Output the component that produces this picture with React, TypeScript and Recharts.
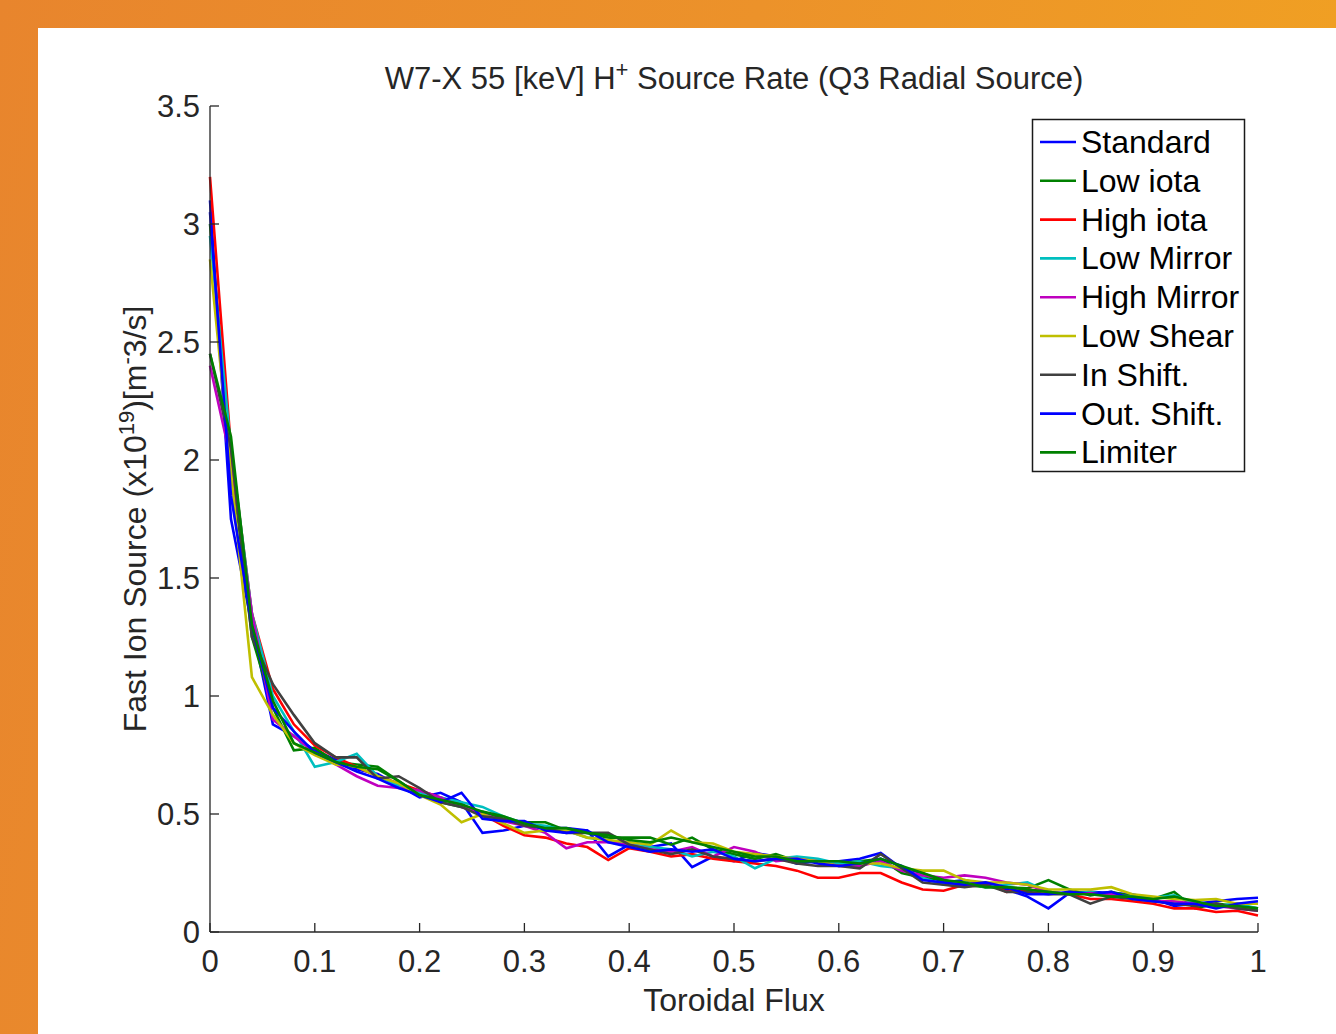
import { LineChart, Line, XAxis, YAxis } from 'recharts';

// Toroidal flux grid (s)
const flux = [
  0, 0.02, 0.04, 0.06, 0.08, 0.1, 0.12, 0.14, 0.16, 0.18,
  0.2, 0.22, 0.24, 0.26, 0.28, 0.3, 0.32, 0.34, 0.36, 0.38,
  0.4, 0.42, 0.44, 0.46, 0.48, 0.5, 0.52, 0.54, 0.56, 0.58,
  0.6, 0.62, 0.64, 0.66, 0.68, 0.7, 0.72, 0.74, 0.76, 0.78,
  0.8, 0.82, 0.84, 0.86, 0.88, 0.9, 0.92, 0.94, 0.96, 0.98, 1,
];

// Fast ion source, x1e19 m^-3/s, one list per configuration
const standard = [3.1, 1.75, 1.3, 0.88, 0.83, 0.77, 0.73, 0.69, 0.67, 0.62, 0.57, 0.59, 0.55, 0.42, 0.43, 0.45, 0.44, 0.44, 0.43, 0.32, 0.37, 0.36, 0.375, 0.275, 0.32, 0.3, 0.335, 0.32, 0.29, 0.3, 0.3, 0.31, 0.335, 0.27, 0.25, 0.21, 0.22, 0.2, 0.18, 0.15, 0.1, 0.165, 0.17, 0.165, 0.16, 0.14, 0.11, 0.12, 0.13, 0.14, 0.145];
const lowIota = [3.0, 2.0, 1.25, 0.95, 0.77, 0.78, 0.72, 0.71, 0.7, 0.64, 0.58, 0.55, 0.53, 0.51, 0.48, 0.465, 0.465, 0.43, 0.42, 0.4, 0.4, 0.4, 0.37, 0.4, 0.35, 0.33, 0.31, 0.33, 0.3, 0.3, 0.29, 0.3, 0.31, 0.25, 0.23, 0.22, 0.2, 0.19, 0.19, 0.185, 0.22, 0.18, 0.155, 0.17, 0.15, 0.14, 0.17, 0.1, 0.12, 0.11, 0.1];
const highIota = [3.2, 2.05, 1.35, 1.03, 0.88, 0.79, 0.74, 0.7, 0.66, 0.63, 0.6, 0.57, 0.54, 0.5, 0.45, 0.41, 0.4, 0.375, 0.36, 0.305, 0.355, 0.34, 0.32, 0.33, 0.31, 0.3, 0.29, 0.28, 0.26, 0.23, 0.23, 0.25, 0.25, 0.21, 0.18, 0.175, 0.2, 0.21, 0.17, 0.18, 0.17, 0.16, 0.14, 0.14, 0.13, 0.12, 0.1, 0.1, 0.085, 0.09, 0.07];
const lowMirror = [2.95, 2.05, 1.35, 1.0, 0.85, 0.7, 0.72, 0.755, 0.66, 0.62, 0.59, 0.57, 0.55, 0.53, 0.49, 0.46, 0.45, 0.43, 0.4, 0.39, 0.37, 0.36, 0.35, 0.32, 0.34, 0.32, 0.27, 0.31, 0.32, 0.31, 0.29, 0.3, 0.28, 0.27, 0.23, 0.2, 0.21, 0.19, 0.2, 0.21, 0.17, 0.16, 0.17, 0.155, 0.15, 0.145, 0.155, 0.12, 0.11, 0.12, 0.1];
const highMirror = [2.4, 2.0, 1.35, 0.9, 0.83, 0.76, 0.71, 0.66, 0.62, 0.61, 0.6, 0.57, 0.53, 0.5, 0.47, 0.45, 0.42, 0.355, 0.38, 0.38, 0.37, 0.35, 0.34, 0.36, 0.32, 0.36, 0.34, 0.3, 0.31, 0.3, 0.28, 0.28, 0.3, 0.26, 0.24, 0.23, 0.24, 0.23, 0.21, 0.2, 0.17, 0.16, 0.165, 0.16, 0.145, 0.13, 0.13, 0.12, 0.11, 0.1, 0.09];
const lowShear = [2.85, 1.95, 1.08, 0.92, 0.8, 0.75, 0.71, 0.7, 0.66, 0.63, 0.58, 0.54, 0.465, 0.5, 0.46, 0.42, 0.43, 0.43, 0.4, 0.39, 0.38, 0.37, 0.43, 0.38, 0.375, 0.34, 0.33, 0.32, 0.31, 0.3, 0.28, 0.29, 0.29, 0.27, 0.26, 0.26, 0.22, 0.21, 0.21, 0.2, 0.18, 0.18, 0.18, 0.19, 0.16, 0.15, 0.14, 0.135, 0.14, 0.12, 0.12];
const inShift = [2.45, 2.05, 1.25, 1.05, 0.92, 0.8, 0.74, 0.74, 0.65, 0.66, 0.61, 0.55, 0.53, 0.49, 0.48, 0.45, 0.44, 0.42, 0.42, 0.42, 0.37, 0.35, 0.33, 0.35, 0.32, 0.31, 0.3, 0.31, 0.29, 0.28, 0.28, 0.27, 0.33, 0.27, 0.21, 0.2, 0.19, 0.2, 0.17, 0.17, 0.16, 0.16, 0.12, 0.15, 0.14, 0.13, 0.12, 0.11, 0.12, 0.1, 0.09];
const outShift = [3.05, 1.85, 1.3, 0.95, 0.85, 0.76, 0.72, 0.68, 0.65, 0.61, 0.58, 0.55, 0.59, 0.48, 0.47, 0.47, 0.43, 0.42, 0.43, 0.38, 0.36, 0.34, 0.35, 0.34, 0.35, 0.31, 0.3, 0.31, 0.31, 0.29, 0.28, 0.29, 0.31, 0.28, 0.22, 0.21, 0.2, 0.21, 0.19, 0.16, 0.16, 0.17, 0.16, 0.17, 0.14, 0.13, 0.12, 0.12, 0.1, 0.12, 0.13];
const limiter = [2.45, 2.1, 1.3, 0.98, 0.8, 0.76, 0.72, 0.7, 0.69, 0.64, 0.58, 0.56, 0.54, 0.51, 0.49, 0.46, 0.44, 0.44, 0.42, 0.41, 0.39, 0.38, 0.4, 0.38, 0.36, 0.34, 0.32, 0.32, 0.3, 0.3, 0.3, 0.29, 0.31, 0.28, 0.25, 0.22, 0.21, 0.19, 0.19, 0.18, 0.17, 0.16, 0.16, 0.15, 0.15, 0.14, 0.15, 0.13, 0.11, 0.11, 0.1];

const xTicks = [0, 0.1, 0.2, 0.3, 0.4, 0.5, 0.6, 0.7, 0.8, 0.9, 1];
const yTicks = [0, 0.5, 1, 1.5, 2, 2.5, 3, 3.5];

const series = [
  { key: 'standard', name: 'Standard', color: '#0000ff', values: standard },
  { key: 'lowIota', name: 'Low iota', color: '#008000', values: lowIota },
  { key: 'highIota', name: 'High iota', color: '#ff0000', values: highIota },
  { key: 'lowMirror', name: 'Low Mirror', color: '#00bfbf', values: lowMirror },
  { key: 'highMirror', name: 'High Mirror', color: '#bf00bf', values: highMirror },
  { key: 'lowShear', name: 'Low Shear', color: '#bfbf00', values: lowShear },
  { key: 'inShift', name: 'In Shift.', color: '#404040', values: inShift },
  { key: 'outShift', name: 'Out. Shift.', color: '#0000ff', values: outShift },
  { key: 'limiter', name: 'Limiter', color: '#008000', values: limiter },
];

const data = flux.map((x, i) => {
  const row: Record<string, number> = { x };
  series.forEach((s) => {
    row[s.key] = s.values[i];
  });
  return row;
});

const FONT = '"Liberation Sans", Arial, Helvetica, sans-serif';
const AXIS = '#262626';
const fmt = (v: number) => String(Math.round(v * 10) / 10);

export default function App() {
  return (
    <div
      style={{
        position: 'absolute',
        left: 0,
        top: 0,
        width: 1336,
        height: 1034,
        overflow: 'hidden',
        background: 'linear-gradient(100deg, #e8852d 0%, #ec922a 50%, #f1a321 100%)',
        fontFamily: FONT,
      }}
    >
      <div style={{ position: 'absolute', left: 38, top: 28, width: 1298, height: 1006, background: '#fff' }}>
        <LineChart width={1298} height={1006} data={data} margin={{ top: 78, right: 78, left: 112, bottom: 42 }}>
          <XAxis
            xAxisId="b"
            dataKey="x"
            type="number"
            domain={[0, 1]}
            ticks={xTicks}
            tickFormatter={fmt}
            height={60}
            tickSize={-9}
            tickMargin={27}
            axisLine={{ stroke: AXIS, strokeWidth: 1.3 }}
            tickLine={{ stroke: AXIS, strokeWidth: 1.3 }}
            tick={{ fill: AXIS, fontSize: 31, fontFamily: FONT }}
            interval={0}
          />
          <XAxis
            xAxisId="t"
            orientation="top"
            dataKey="x"
            type="number"
            domain={[0, 1]}
            ticks={xTicks}
            height={0}
            tickSize={-9}
            tick={false}
            axisLine={{ stroke: AXIS, strokeWidth: 1.3 }}
            tickLine={{ stroke: AXIS, strokeWidth: 1.3 }}
            interval={0}
          />
          <YAxis
            yAxisId="l"
            type="number"
            domain={[0, 3.5]}
            ticks={yTicks}
            tickFormatter={fmt}
            width={60}
            tickSize={-9}
            tickMargin={19}
            axisLine={{ stroke: AXIS, strokeWidth: 1.3 }}
            tickLine={{ stroke: AXIS, strokeWidth: 1.3 }}
            tick={{ fill: AXIS, fontSize: 31, fontFamily: FONT }}
            interval={0}
          />
          <YAxis
            yAxisId="r"
            orientation="right"
            type="number"
            domain={[0, 3.5]}
            ticks={yTicks}
            width={0}
            tickSize={-9}
            tick={false}
            axisLine={{ stroke: AXIS, strokeWidth: 1.3 }}
            tickLine={{ stroke: AXIS, strokeWidth: 1.3 }}
            interval={0}
          />
          {series.map((s) => (
            <Line
              key={s.key}
              xAxisId="b"
              yAxisId="l"
              type="linear"
              dataKey={s.key}
              name={s.name}
              stroke={s.color}
              strokeWidth={2.6}
              dot={false}
              isAnimationActive={false}
            />
          ))}
        </LineChart>
      </div>

      {/* title, axis labels and MATLAB-style legend */}
      <svg width={1336} height={1034} style={{ position: 'absolute', left: 0, top: 0, pointerEvents: 'none' }}>
        <text x={734} y={89} textAnchor="middle" fontSize={31} fill={AXIS} fontFamily={FONT}>
          W7-X 55 [keV] H<tspan dy={-12} fontSize={22}>+</tspan>
          <tspan dy={12}> Source Rate (Q3 Radial Source)</tspan>
        </text>
        <text x={734} y={1011} textAnchor="middle" fontSize={32} fill={AXIS} fontFamily={FONT}>
          Toroidal Flux
        </text>
        <text transform="translate(146,519) rotate(-90)" textAnchor="middle" fontSize={32} fill={AXIS} fontFamily={FONT}>
          Fast Ion Source (x10<tspan dy={-12} fontSize={22}>19</tspan>
          <tspan dy={12}>)[m</tspan>
          <tspan dy={-12} fontSize={22}>-</tspan>
          <tspan dy={12}>3/s]</tspan>
        </text>
        <rect x={1032.5} y={119.5} width={212} height={352} fill="#fff" stroke="#1a1a1a" strokeWidth={1.5} />
        {series.map((s, i) => {
          const cy = 142 + i * 38.8;
          return (
            <g key={s.key}>
              <line x1={1040} x2={1076} y1={cy} y2={cy} stroke={s.color} strokeWidth={2.6} />
              <text x={1081} y={cy + 11} fontSize={32} fill="#000" fontFamily={FONT}>
                {s.name}
              </text>
            </g>
          );
        })}
      </svg>
    </div>
  );
}
